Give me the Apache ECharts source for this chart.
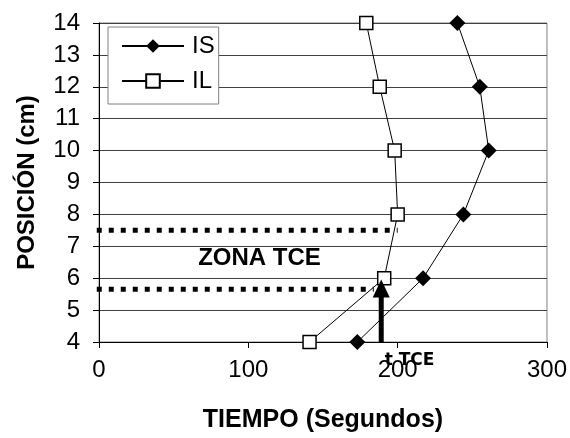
<!DOCTYPE html>
<html>
<head>
<meta charset="utf-8">
<script src="https://cdn.jsdelivr.net/npm/echarts@6/dist/echarts.min.js"></script>
<style>html,body{margin:0;padding:0;background:#fff;}#c{width:570px;height:438px;}</style>
</head>
<body>
<div id="c"></div>
<script>
// Data
var positions = [4, 6, 8, 10, 12, 14];
var tiempoIS = [173, 217, 244, 261, 255, 240];
var tiempoIL = [141, 191, 200, 198, 188, 179];
var zonaTop = [[-1.5, 7.5], [200, 7.5]];
var zonaBottom = [[-1.5, 5.65], [184, 5.65]];
var arrowTCE = [[189, 4], [189, 5.68]];

var FONT = '"Liberation Sans", Arial, sans-serif';

function pairs(xs, ys) { return xs.map(function (x, i) { return [x, ys[i]]; }); }

var chart = echarts.init(document.getElementById('c'), null, { renderer: 'canvas' });
var option = {
  animation: false,
  backgroundColor: '#fff',
  textStyle: { fontFamily: FONT, color: '#000' },
  grid: { left: 99, right: 22, top: 23, bottom: 95, show: true, borderColor: '#808080', borderWidth: 1, backgroundColor: 'transparent' },
  legend: {
    left: 108, top: 27, orient: 'vertical',
    data: ['IS', 'IL'],
    itemWidth: 62, itemHeight: 17, itemGap: 11,
    padding: [7, 4, 11, 13],
    borderColor: '#808080', borderWidth: 1, backgroundColor: '#fff',
    selectedMode: false,
    textStyle: { fontFamily: FONT, fontSize: 24, color: '#000', padding: [0, 0, 0, 3] }
  },
  xAxis: {
    type: 'value', min: 0, max: 300, interval: 100,
    axisLine: { show: true, lineStyle: { color: '#000', width: 1 } },
    axisTick: { show: true, inside: false, length: 6, lineStyle: { color: '#000' } },
    axisLabel: { fontFamily: FONT, fontSize: 24, color: '#000', margin: 16 },
    splitLine: { show: false },
    name: 'TIEMPO (Segundos)', nameLocation: 'middle', nameGap: 66,
    nameTextStyle: { fontFamily: FONT, fontSize: 25, fontWeight: 'bold', color: '#000' }
  },
  yAxis: {
    type: 'value', min: 4, max: 14, interval: 1,
    axisLine: { show: true, lineStyle: { color: '#000', width: 1 } },
    axisTick: { show: true, inside: false, length: 6, lineStyle: { color: '#000' } },
    axisLabel: { fontFamily: FONT, fontSize: 24, color: '#000', margin: 19 },
    splitLine: { show: true, lineStyle: { color: '#404040', width: 1 } },
    name: 'POSICIÓN (cm)', nameLocation: 'middle', nameGap: 60, nameRotate: 90,
    nameTextStyle: { fontFamily: FONT, fontSize: 24, fontWeight: 'bold', color: '#000' }
  },
  series: [
    {
      name: 'IS', type: 'line', data: pairs(tiempoIS, positions),
      symbol: 'diamond', symbolSize: 16, showSymbol: true,
      lineStyle: { color: '#000', width: 1 },
      itemStyle: { color: '#000', borderColor: '#000', borderWidth: 0 },
      z: 5, silent: true
    },
    {
      name: 'IL', type: 'line', data: pairs(tiempoIL, positions),
      symbol: 'rect', symbolSize: 13, showSymbol: true,
      lineStyle: { color: '#000', width: 1 },
      itemStyle: { color: '#fff', borderColor: '#000', borderWidth: 1.5 },
      z: 6, silent: true
    },
    {
      name: 'zonaTop', type: 'line', data: zonaTop, symbol: 'none', clip: false,
      lineStyle: { color: '#000', width: 5, type: [5, 7], cap: 'butt' }, z: 3, silent: true
    },
    {
      name: 'zonaBottom', type: 'line', data: zonaBottom, symbol: 'none', clip: false,
      lineStyle: { color: '#000', width: 5, type: [5, 7], cap: 'butt' }, z: 3, silent: true
    },
    {
      name: 'arrow', type: 'line', data: arrowTCE, clip: false,
      showSymbol: true,
      symbol: function (v, p) { return p.dataIndex === 1 ? 'triangle' : 'none'; },
      symbolSize: [17, 18],
      lineStyle: { color: '#000', width: 5 },
      itemStyle: { color: '#000' }, z: 7, silent: true
    }
  ]
};
chart.setOption(option);

var zc = chart.convertToPixel({ gridIndex: 0 }, [107.5, 6.625]);
var tc = chart.convertToPixel({ gridIndex: 0 }, [208, 4]);
chart.setOption({
  graphic: [
    { type: 'text', x: zc[0], y: zc[1], silent: true, z: 10,
      style: { text: 'ZONA TCE', fontFamily: FONT, fontSize: 24, fontWeight: 'bold', fill: '#000', align: 'center', verticalAlign: 'middle' } },
    { type: 'text', x: tc[0], y: tc[1] + 19, silent: true, z: 10,
      style: { text: 't TCE', fontFamily: '"DejaVu Sans", sans-serif', fontSize: 17, fontWeight: 'bold', fill: '#000', align: 'center', verticalAlign: 'middle' } }
  ]
});
</script>
</body>
</html>
